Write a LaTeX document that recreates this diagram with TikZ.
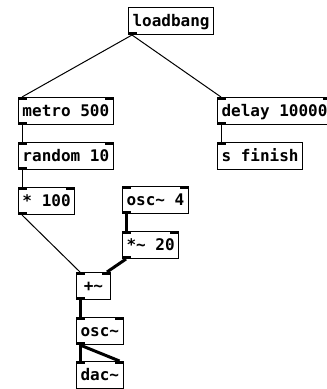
\documentclass[tikz,border=0pt]{standalone}
\usepackage{fontspec}
\newfontfamily\pdfont{DejaVu Sans Mono}
\usetikzlibrary{positioning}
\tikzset{
  obj/.style={rectangle, draw=black, line width=1pt, anchor=north west,
    font=\pdfont\bfseries\fontsize{16}{16}\selectfont, inner xsep=4pt, inner ysep=4.5pt,
    text height=14.5pt, text depth=3.5pt, minimum height=27pt},
  iolet/.style={fill=black},
  ctl/.style={line width=1pt, black},
  sig/.style={line width=3pt, black},
}
\begin{document}
\begin{tikzpicture}[x=1pt, y=-1pt]
\useasboundingbox (0,0) rectangle (327,389);
\node[obj] (lb) at (128,7) {loadbang};
\node[obj] (metro) at (18,97) {metro 500};
\node[obj, below=17pt of metro.south west, anchor=north west] (rand) {random 10};
\node[obj, below=17pt of rand.south west, anchor=north west] (mul) {* 100};
\node[obj] (dly) at (217,97) {delay 10000};
\node[obj, below=17pt of dly.south west, anchor=north west] (snd) {s finish};
\node[obj] (osc) at (122,186) {osc\char`~\ 4};
\node[obj, below=17pt of osc.south west, anchor=north west] (sig) {*\char`~\ 20};
\node[obj, minimum width=34pt] (add) at (76,272) {+\char`~};
\node[obj, below=17pt of add.south west, anchor=north west] (oscb) {osc\char`~};
\node[obj, below=16pt of oscb.south west, anchor=north west] (dac) {dac\char`~};

% inlets and outlets
\foreach \n in {metro,rand,mul,dly,snd,osc,sig,add,oscb,dac}
  \fill[iolet] (\n.north west) rectangle ++(9,3);
\foreach \n in {metro,rand,mul,dly,osc,sig,add,oscb,dac}
  \fill[iolet] (\n.north east) rectangle ++(-9,3);
\foreach \n in {lb,metro,rand,mul,dly,osc,sig,add,oscb}
  \fill[iolet] (\n.south west) rectangle ++(9,-3);

% connections
\draw[ctl] ([xshift=4pt]lb.south west) -- ([xshift=4pt]metro.north west);
\draw[ctl] ([xshift=4pt]lb.south west) -- ([xshift=4pt]dly.north west);
\draw[ctl] ([xshift=4pt]metro.south west) -- ([xshift=4pt]rand.north west);
\draw[ctl] ([xshift=4pt]rand.south west) -- ([xshift=4pt]mul.north west);
\draw[ctl] ([xshift=4pt]dly.south west) -- ([xshift=4pt]snd.north west);
\draw[ctl] ([xshift=4pt]mul.south west) -- ([xshift=4pt]add.north west);
\draw[sig] ([xshift=4pt]osc.south west) -- ([xshift=4pt]sig.north west);
\draw[sig] ([xshift=4pt]sig.south west) -- ([xshift=-4pt]add.north east);
\draw[sig] ([xshift=4pt]add.south west) -- ([xshift=4pt]oscb.north west);
\draw[sig] ([xshift=4pt]oscb.south west) -- ([xshift=4pt]dac.north west);
\draw[sig] ([xshift=4pt]oscb.south west) -- ([xshift=-4pt]dac.north east);
\end{tikzpicture}
\end{document}
